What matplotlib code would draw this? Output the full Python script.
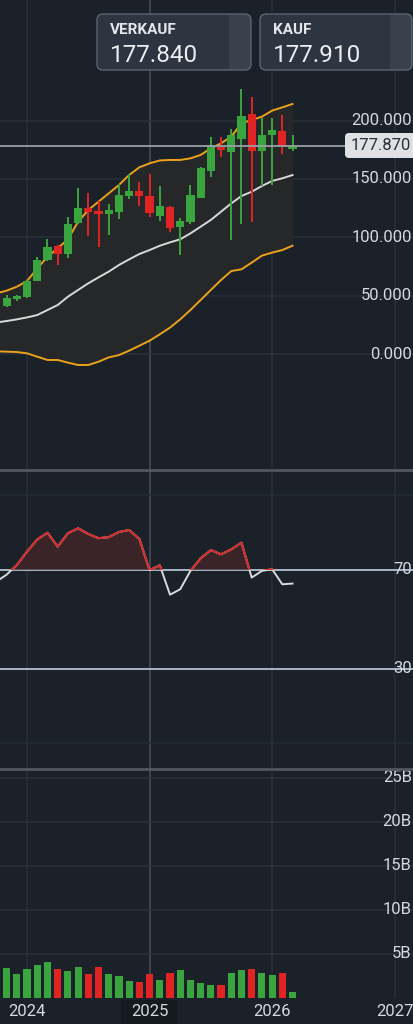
import numpy as np
import matplotlib.pyplot as plt
from matplotlib.patches import FancyBboxPatch, Rectangle
from matplotlib.transforms import blended_transform_factory
from matplotlib.lines import Line2D

plt.rcParams['font.family'] = ['Roboto', 'DejaVu Sans']

# monthly candles, Nov 2023 .. Mar 2026 (index 0..28)
opens = [41, 47, 49, 63, 81, 93, 86, 112, 125, 122, 120, 122, 135, 139.5, 135,
         118, 126, 108.5, 113, 134, 157, 177, 173, 184, 206, 174, 188, 191, 175.5]
closes = [48, 50, 63, 81, 92, 86, 111, 125, 122, 120, 123, 136, 140, 135.5, 120.6,
          127, 108, 114, 136, 159, 179, 174.5, 188, 204, 174, 188, 192, 178, 177.87]
highs = [51, 51, 63.5, 83, 98.6, 93.5, 117, 142.5, 138.3, 131.4, 128.3, 145.4, 154, 147.7, 154.3,
         144, 126.5, 116.3, 144.9, 160, 186.3, 185.7, 192.6, 226.9, 220, 202, 202.6, 204.9, 187.7]
lows = [40.5, 45.7, 48, 62.5, 80, 76.3, 82.3, 111.5, 101, 92, 102, 115.4, 132.9, 126.9, 117.7,
        114, 104.8, 84.9, 111.4, 133.5, 152, 169.1, 97.7, 111.4, 113.4, 144, 144.9, 171.4, 174]
volume_b = [3.44, 2.69, 3.33, 3.75, 4.09, 3.30, 3.10, 3.49, 2.69, 3.49, 2.73, 2.47, 1.93, 1.82, 2.73,
            2.05, 2.88, 3.22, 2.05, 1.67, 1.52, 1.48, 2.84, 3.15, 3.26, 2.84, 2.61, 2.80, 0.68]

# bollinger bands, index -1..28
bb_upper = [52, 54.3, 57.7, 62.6, 73.4, 83.4, 90.6, 98.3, 113.4, 123.4, 130.6, 137.7, 144.9, 153.4, 160,
            163.4, 165.9, 166.3, 166.3, 167.7, 170.6, 176.3, 180.6, 186.3, 197.7, 200.6, 203.4, 208.6,
            211.4, 214.3]
bb_mid = [27, 28.3, 29.7, 31.4, 33.4, 37.7, 42, 49.1, 54.9, 60.6, 65.7, 70.6, 76.3, 81.1, 85.7,
          89.1, 92.8, 95.7, 98.3, 103.4, 109.1, 114.9, 122, 129.1, 135.4, 139.1, 144, 148.3, 150.6, 153.4]
bb_lower = [2.3, 2, 1.7, 0.6, -2.3, -5.1, -5.1, -7.4, -9.4, -9.4, -6.6, -2.9, -0.9, 2.9, 7.1,
            11.4, 16.9, 22.6, 29.7, 37.7, 46.3, 54.9, 63.4, 71.1, 72.6, 78.3, 84.3, 86.9, 89.1, 92.8]

# RSI, index -1..28
rsi = [65.2, 68, 71.9, 77.3, 82.2, 84.9, 79.3, 84.7, 86.7, 84.4, 82.7, 83.1, 85.2, 86, 82.4,
       69.8, 71.8, 59.9, 62.1, 69.5, 74.6, 77.9, 76.2, 78.2, 80.9, 66.8, 69.5, 70.2, 64.1, 64.4]

price_ticks = [0, 50, 100, 150, 200]
vol_ticks = [5, 10, 15, 20, 25]
years = [2024, 2025, 2026, 2027]
last_price = 177.87
sell_price = "177.840"
buy_price = "177.910"

BG = '#1b2129'
GRID = '#2a3039'
TXT = '#d6d9de'
GREEN = '#3aa43e'
RED = '#e02424'
ORANGE = '#eba21a'
W, H = 413, 1024

x = np.arange(len(opens))
xb = np.arange(-1, len(opens))
year_pos = [(y - 2024) * 12 + 2 for y in years]
xlim = (-0.65, 39.8)

fig = plt.figure(figsize=(W / 100, H / 100), dpi=100)
fig.patch.set_facecolor(BG)
px = fig.dpi_scale_trans


def fy(y):
    # pixel row from top -> inches from bottom
    return (H - y) / 100


ax_p = fig.add_axes([0, 1 - 470 / H, 1, 470 / H])
ax_r = fig.add_axes([0, 1 - 769 / H, 1, 299 / H])
ax_v = fig.add_axes([0, 1 - 998 / H, 1, 229 / H])

for ax in (ax_p, ax_r, ax_v):
    ax.set_facecolor(BG)
    ax.set_xlim(*xlim)
    for s in ax.spines.values():
        s.set_visible(False)
    ax.set_yticks([])
    ax.set_xticks([])
    for i, xp in enumerate(year_pos):
        col = '#4a4f57' if years[i] == 2025 else GRID
        ax.axvline(xp, color=col, lw=1.1, zorder=0)

# price panel
ax_p.set_ylim(-99.4, 303.4)
tr = blended_transform_factory(ax_p.transAxes, ax_p.transData)
for v in price_ticks:
    ax_p.axhline(v, color=GRID, lw=1.1, zorder=0)
    ax_p.text(0.997, v, f"{v:.3f}", transform=tr, ha='right', va='center',
              color=TXT, fontsize=12, zorder=6)

ax_p.fill_between(xb, bb_lower, bb_upper, color='#252729', lw=0, zorder=1)
ax_p.plot(xb, bb_upper, color=ORANGE, lw=1.4, zorder=2)
ax_p.plot(xb, bb_lower, color=ORANGE, lw=1.4, zorder=2)
ax_p.plot(xb, bb_mid, color='#d9d9d9', lw=1.4, zorder=2)

for i in x:
    o, c = opens[i], closes[i]
    col = GREEN if c >= o else RED
    ax_p.vlines(i, lows[i], highs[i], color=col, lw=1.4, zorder=3)
    h = max(abs(c - o), 2.2)
    ax_p.bar(i, h, bottom=min(o, c), width=0.8, color=col, zorder=4)

ax_p.axhline(last_price, color='#9a9fa6', lw=1.3, zorder=5)
lbl = FancyBboxPatch((3.45, fy(158)), 0.75, 0.25, boxstyle="round,pad=0,rounding_size=0.04",
                     transform=px, fc='#dfe1e4', ec='none', zorder=7)
fig.patches.append(lbl)
fig.text(4.115, fy(145.5), f"{last_price:.3f}", transform=px, ha='right', va='center',
         color='#2b2f36', fontsize=12, zorder=8)

# RSI panel
ax_r.set_ylim(-10.4, 110.2)
trr = blended_transform_factory(ax_r.transAxes, ax_r.transData)
for v in (0, 100):
    ax_r.axhline(v, color='#232e30', lw=1.1, zorder=0)
for v in (70, 30):
    ax_r.axhline(v, color='#a7b6c7', lw=1.4, zorder=1)
    ax_r.text(0.997, v, str(v), transform=trr, ha='right', va='center', color=TXT,
              fontsize=12, zorder=6)
rsi_a = np.array(rsi)
ax_r.fill_between(xb, rsi_a, 70, where=rsi_a > 70, interpolate=True, color='#3b2428', lw=0, zorder=1)
ax_r.plot(xb, rsi_a, color='#d8dadd', lw=1.4, zorder=2)
red_line, = ax_r.plot(xb, rsi_a, color='#d42a2a', lw=1.5, zorder=3)
clip = Rectangle((-5, 70), 60, 60, transform=ax_r.transData)
red_line.set_clip_path(clip)

# volume panel
ax_v.set_ylim(0, 26.0)
trv = blended_transform_factory(ax_v.transAxes, ax_v.transData)
for v in vol_ticks:
    ax_v.axhline(v, color=GRID, lw=1.1, zorder=0)
    ax_v.text(0.997, v, f"{v}B", transform=trv, ha='right', va='center', color=TXT,
              fontsize=12, zorder=6)
vcols = [GREEN if closes[i] >= opens[i] else RED for i in x]
ax_v.bar(x, volume_b, width=0.7, color=vcols, zorder=3)

# x labels (2025 sits on the crosshair highlight)
fig.patches.append(Rectangle((1.21, 0), 0.56, fy(1000), transform=px,
                             fc='#151a20', ec='none', zorder=5))
for i, xp in enumerate(year_pos):
    xf = (xp - xlim[0]) / (xlim[1] - xlim[0])
    fig.text(xf, 1 - 1012 / H, str(years[i]), ha='center', va='center', color=TXT,
             fontsize=12, zorder=6)

# panel separators
for yp in (470, 769):
    yf = 1 - yp / H
    fig.lines.append(Line2D([0, 1], [yf, yf], transform=fig.transFigure, color='#51565f', lw=2))


# top sell / buy boxes
def price_box(x0, x1, title, price):
    y0, y1 = 14, 70
    box = FancyBboxPatch((x0 / 100, fy(y1)), (x1 - x0) / 100, (y1 - y0) / 100,
                         boxstyle="round,pad=0,rounding_size=0.06", transform=px,
                         fc='#2d3541', ec='none', zorder=5)
    fig.patches.append(box)
    strip = Rectangle(((x1 - 22) / 100, fy(y1)), 0.22, (y1 - y0) / 100,
                      transform=px, fc='#39414d', ec='none', zorder=6)
    strip.set_clip_path(box)
    fig.patches.append(strip)
    edge = FancyBboxPatch((x0 / 100, fy(y1)), (x1 - x0) / 100, (y1 - y0) / 100,
                          boxstyle="round,pad=0,rounding_size=0.06", transform=px,
                          fc='none', ec='#5b6470', lw=1.0, zorder=7)
    fig.patches.append(edge)
    fig.text((x0 + 13) / 100, fy(30), title, transform=px, ha='left', va='center',
             color='#e4e6ea', fontsize=11, fontweight='bold', zorder=8)
    fig.text((x0 + 13) / 100, fy(55), price, transform=px, ha='left', va='center',
             color='#eceef1', fontsize=17.5, zorder=8)


price_box(97, 251, "VERKAUF", sell_price)
price_box(260, 412, "KAUF", buy_price)

fig.savefig('out.png', dpi=100, facecolor=BG)
